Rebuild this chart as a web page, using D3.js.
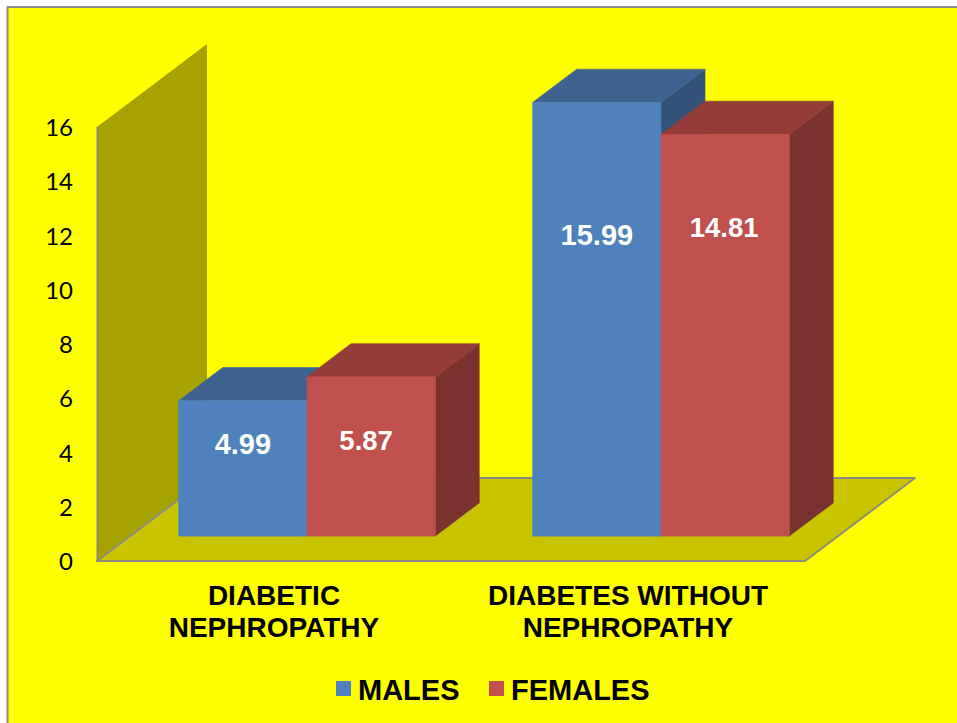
<!DOCTYPE html>
<html>
<head>
<meta charset="utf-8">
<script src="https://cdn.jsdelivr.net/npm/d3@7"></script>
<style>
  html, body { margin: 0; padding: 0; background: #fff; }
  svg { display: block; }
</style>
</head>
<body>
<svg id="chart" width="957" height="723"></svg>
<script>
// chart data
const categories = [["DIABETIC", "NEPHROPATHY"], ["DIABETES WITHOUT", "NEPHROPATHY"]];
const seriesNames = ["MALES", "FEMALES"];
const males = [4.99, 15.99];
const females = [5.87, 14.81];
const yTicks = [0, 2, 4, 6, 8, 10, 12, 14, 16];

const colors = {
  MALES: { front: "#4f81bd", top: "#3f6390", side: "#32527a" },
  FEMALES: { front: "#c0504d", top: "#933c3a", side: "#7a3231" }
};

const svg = d3.select("#chart");

// front plane of the 3d box
const plotLeft = 97;
const plotRight = 805;
const plotBottom = 561;
const plotTop = 127;
// how far the back wall sits from the front plane
const depthX = 110;
const depthY = 83;
// bars stand between 30% and 70% of the floor depth
const barNear = 0.3;
const barFar = 0.7;

const y = d3.scaleLinear().domain([0, 16]).range([plotBottom, plotTop]);
const x0 = d3.scaleBand().domain(d3.range(categories.length)).range([plotLeft, plotRight]);
const x1 = d3.scaleBand().domain(seriesNames).range([0, x0.bandwidth()]).paddingOuter(0.38).paddingInner(0);

// background + frame
svg.append("rect")
  .attr("x", 7.5).attr("y", 7)
  .attr("width", 960).attr("height", 730)
  .attr("fill", "#ffff00")
  .attr("stroke", "#8c8c8c")
  .attr("stroke-width", 2);

const poly = pts => pts.map(p => p.join(",")).join(" ");

// back wall (the left side panel)
svg.append("polygon")
  .attr("points", poly([
    [plotLeft, plotBottom], [plotLeft, plotTop],
    [plotLeft + depthX, plotTop - depthY], [plotLeft + depthX, plotBottom - depthY]
  ]))
  .attr("fill", "#a6a200");

// floor
svg.append("polygon")
  .attr("points", poly([
    [plotLeft, plotBottom], [plotRight, plotBottom],
    [plotRight + depthX, plotBottom - depthY], [plotLeft + depthX, plotBottom - depthY]
  ]))
  .attr("fill", "#c8c400")
  .attr("stroke", "#8c8c7a")
  .attr("stroke-width", 2)
  .attr("stroke-linejoin", "round");

// axis edge of the wall
svg.append("line")
  .attr("x1", plotLeft + 0.5).attr("y1", plotTop)
  .attr("x2", plotLeft + 0.5).attr("y2", plotBottom)
  .attr("stroke", "#8c8c7a").attr("stroke-width", 2);

// y axis
const yAxis = d3.axisLeft(y).tickValues(yTicks).tickSize(0).tickPadding(24);
const yG = svg.append("g").attr("transform", `translate(${plotLeft},1)`).call(yAxis);
yG.select(".domain").remove();
yG.selectAll("text")
  .attr("font-family", "Lato, sans-serif")
  .attr("font-size", 24)
  .attr("fill", "#000");

// bars
const bars = [];
categories.forEach((c, i) => {
  bars.push({ cat: i, name: "MALES", value: males[i] });
  bars.push({ cat: i, name: "FEMALES", value: females[i] });
});

// where the value labels sit inside each bar
const labelY = { MALES: [444, 235], FEMALES: [440, 227] };
const labelNudge = { MALES: [0, 0], FEMALES: [-5, -1] };
const labelSize = { MALES: 29, FEMALES: 27.5 };

const barG = svg.append("g").selectAll("g").data(bars).join("g");

barG.each(function (d) {
  const g = d3.select(this);
  const c = colors[d.name];
  const nx = depthX * barNear, ny = depthY * barNear;
  const bx = depthX * (barFar - barNear), by = depthY * (barFar - barNear);
  const left = x0(d.cat) + x1(d.name) + nx;
  const right = left + x1.bandwidth();
  const bottom = plotBottom - ny;
  const top = y(d.value) - ny;

  // same colour stroke closes the hairline seams between the faces
  g.append("polygon")
    .attr("points", poly([[right, bottom], [right, top], [right + bx, top - by], [right + bx, bottom - by]]))
    .attr("fill", c.side).attr("stroke", c.side).attr("stroke-width", 0.6);
  g.append("polygon")
    .attr("points", poly([[left, top], [right, top], [right + bx, top - by], [left + bx, top - by]]))
    .attr("fill", c.top).attr("stroke", c.top).attr("stroke-width", 0.6);
  g.append("rect")
    .attr("x", left).attr("y", top)
    .attr("width", right - left).attr("height", bottom - top)
    .attr("fill", c.front).attr("stroke", c.front).attr("stroke-width", 0.6);
});

// value labels go on last so no bar covers them
svg.append("g").selectAll("text").data(bars).join("text")
  .attr("x", d => x0(d.cat) + x1(d.name) + depthX * barNear + x1.bandwidth() / 2 + labelNudge[d.name][d.cat])
  .attr("y", d => labelY[d.name][d.cat])
  .attr("dy", "0.35em")
  .attr("text-anchor", "middle")
  .attr("font-family", "'Liberation Sans', Arial, sans-serif")
  .attr("font-weight", "bold")
  .attr("font-size", d => labelSize[d.name])
  .attr("fill", "#fff")
  .text(d => d.value.toFixed(2));

// category labels
const catG = svg.append("g").selectAll("text").data(categories).join("text")
  .attr("text-anchor", "middle")
  .attr("font-family", "'Liberation Sans', Arial, sans-serif")
  .attr("font-weight", "bold")
  .attr("font-size", 28)
  .attr("fill", "#000");

catG.selectAll("tspan").data((d, i) => d.map(t => ({ t, i }))).join("tspan")
  .attr("x", d => x0(d.i) + x0.bandwidth() / 2)
  .attr("y", (d, j) => 605 + j * 32)
  .text(d => d.t);

// legend
const legendX = d3.scaleOrdinal().domain(seriesNames).range([336, 489]);
const legend = svg.append("g").selectAll("g").data(seriesNames).join("g")
  .attr("transform", d => `translate(${legendX(d)},681)`);
legend.append("rect")
  .attr("width", 15).attr("height", 15)
  .attr("fill", d => colors[d].front);
legend.append("text")
  .attr("x", 22).attr("y", 19)
  .attr("font-family", "'Liberation Sans', Arial, sans-serif")
  .attr("font-weight", "bold")
  .attr("font-size", 29)
  .attr("fill", "#000")
  .text(d => d);
</script>
</body>
</html>
